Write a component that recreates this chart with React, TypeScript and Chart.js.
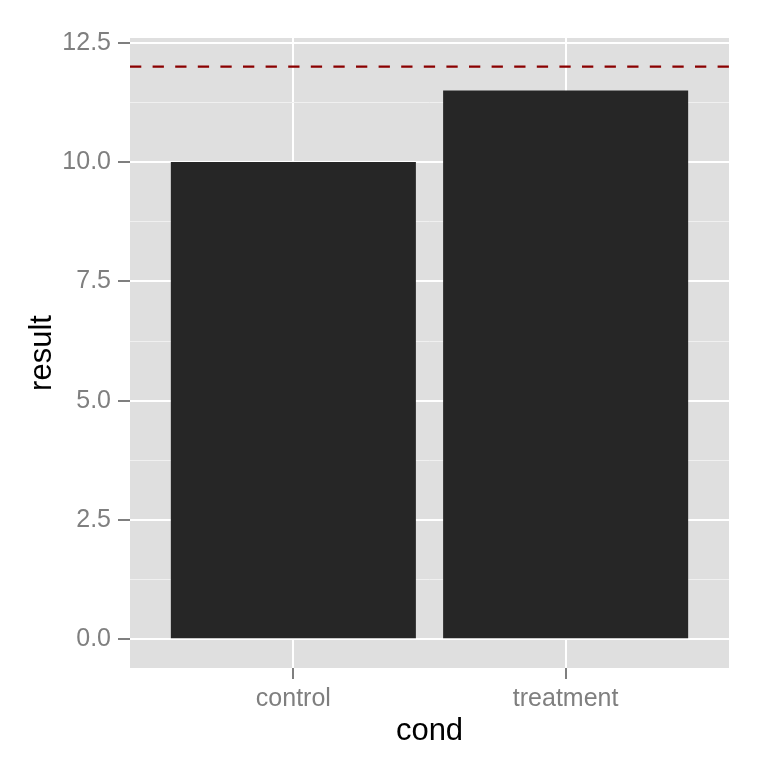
import React, { useEffect, useRef } from "react";
import { Chart, registerables } from "chart.js";

Chart.register(...registerables);

const categories = ["control", "treatment"];
const results = [10, 11.5];
const referenceLine = 12;
const yMajorTicks = [0, 2.5, 5, 7.5, 10, 12.5];
const yMajorLabels = ["0.0", "2.5", "5.0", "7.5", "10.0", "12.5"];
const yMinorTicks = [1.25, 3.75, 6.25, 8.75, 11.25];
const xTitle = "cond";
const yTitle = "result";

const FONT = "'Liberation Sans', Arial, Helvetica, sans-serif";
const PANEL_BG = "#DFDFDF";
const TICK_COL = "#7F7F7F";

const panelPlugin = {
  id: "panelBg",
  beforeDraw(chart: any) {
    const { ctx, chartArea } = chart;
    ctx.save();
    ctx.fillStyle = PANEL_BG;
    ctx.fillRect(chartArea.left, chartArea.top, chartArea.right - chartArea.left, chartArea.bottom - chartArea.top);
    ctx.restore();
  },
};

const hlinePlugin = {
  id: "hline",
  afterDatasetsDraw(chart: any) {
    const { ctx, chartArea } = chart;
    const y = chart.scales.y.getPixelForValue(referenceLine);
    ctx.save();
    ctx.beginPath();
    ctx.rect(chartArea.left, chartArea.top, chartArea.right - chartArea.left, chartArea.bottom - chartArea.top);
    ctx.clip();
    ctx.strokeStyle = "#8B0000";
    ctx.lineWidth = 2.2;
    ctx.setLineDash([11.3, 11.3]);
    ctx.beginPath();
    ctx.moveTo(chartArea.left, y);
    ctx.lineTo(chartArea.right, y);
    ctx.stroke();
    ctx.restore();
  },
};

export default function App() {
  const ref = useRef<HTMLCanvasElement | null>(null);

  useEffect(() => {
    if (!ref.current) return;
    const allY = [...yMajorTicks, ...yMinorTicks].sort((a, b) => a - b);
    const isMajor = (v: number) => yMajorTicks.some((m) => Math.abs(m - v) < 1e-9);

    const chart = new Chart(ref.current, {
      type: "bar",
      data: {
        datasets: [
          {
            data: categories.map((c, i) => ({ x: i + 1, y: results[i] })),
            backgroundColor: "#262626",
            borderWidth: 0,
            categoryPercentage: 1,
            barPercentage: 0.9,
          } as any,
        ],
      },
      options: {
        animation: false,
        responsive: false,
        devicePixelRatio: 1,
        layout: { padding: { top: 38, right: 39, left: 0, bottom: 0 } },
        plugins: { legend: { display: false }, tooltip: { enabled: false } },
        scales: {
          x: {
            type: "linear",
            min: 0.4,
            max: 2.6,
            offset: false,
            afterBuildTicks: (scale: any) => {
              scale.ticks = categories.map((c, i) => ({ value: i + 1 }));
            },
            afterFit: (scale: any) => {
              scale.height = 100;
            },
            ticks: {
              autoSkip: false,
              maxRotation: 0,
              padding: 5,
              color: TICK_COL,
              font: { family: FONT, size: 25 },
              callback: (v: any) => categories[Math.round(Number(v)) - 1] ?? "",
            },
            grid: {
              offset: false,
              color: "#FFFFFF",
              lineWidth: 2,
              drawTicks: true,
              tickLength: 11,
              tickColor: TICK_COL,
              tickWidth: 2,
            },
            border: { display: false },
            title: {
              display: true,
              text: xTitle,
              color: "#000000",
              font: { family: FONT, size: 31 },
              padding: { top: 0, bottom: 18 },
            },
          },
          y: {
            type: "linear",
            min: -0.6,
            max: 12.6,
            afterBuildTicks: (scale: any) => {
              scale.ticks = allY.map((v) => ({ value: v }));
            },
            afterFit: (scale: any) => {
              scale.width = 130;
            },
            ticks: {
              autoSkip: false,
              padding: 7,
              color: TICK_COL,
              font: { family: FONT, size: 25 },
              callback: (v: any) => {
                const idx = yMajorTicks.findIndex((m) => Math.abs(m - Number(v)) < 1e-9);
                return idx >= 0 ? yMajorLabels[idx] : "";
              },
            },
            grid: {
              color: (ctx: any) => (isMajor(ctx.tick?.value) ? "#FFFFFF" : "#F0F0F0"),
              lineWidth: (ctx: any) => (isMajor(ctx.tick?.value) ? 2 : 1),
              drawTicks: true,
              tickLength: 12,
              tickColor: (ctx: any) => (isMajor(ctx.tick?.value) ? TICK_COL : "rgba(0,0,0,0)"),
              tickWidth: 2,
            },
            border: { display: false },
            title: {
              display: true,
              text: yTitle,
              color: "#000000",
              font: { family: FONT, size: 31 },
              padding: { top: 24, bottom: 0 },
            },
          },
        },
      } as any,
      plugins: [panelPlugin, hlinePlugin],
    });
    return () => chart.destroy();
  }, []);

  return (
    <div style={{ position: "absolute", left: 0, top: 0, width: 768, height: 768, background: "#FFFFFF" }}>
      <canvas ref={ref} width={768} height={768} style={{ display: "block", width: 768, height: 768 }} />
    </div>
  );
}
